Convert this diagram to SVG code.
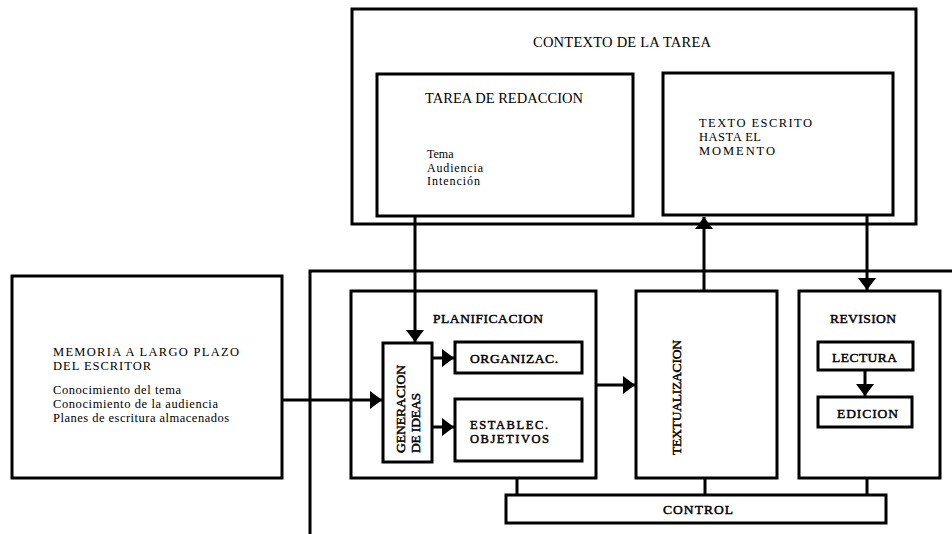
<svg xmlns="http://www.w3.org/2000/svg" width="952" height="534" viewBox="0 0 952 534">
<style>
.box{fill:none;stroke:#000;stroke-width:3}
.ln{fill:none;stroke:#000;stroke-width:3}
text{font-family:"Liberation Serif","Times New Roman",serif;fill:#000}
.t{font-size:14.5px}
.c{font-size:12.5px}
.s{font-size:12px}
.m{font-size:12.5px}
.b{font-size:13.5px;stroke:#000;stroke-width:0.45}
.bs{font-size:12.5px;stroke:#000;stroke-width:0.45}
</style>
<defs>
<marker id="ah" markerUnits="userSpaceOnUse" markerWidth="14" markerHeight="20" viewBox="0 -10 14 20" refX="12" refY="0" orient="auto">
<path d="M0,-9 L12,0 L0,9 Z" fill="#000"/>
</marker>
</defs>
<rect width="952" height="534" fill="#fff"/>

<g id="contexto">
<rect class="box" x="352" y="9" width="564" height="215"/>
<text class="t" x="533" y="47" textLength="178">CONTEXTO DE LA TAREA</text>
</g>

<g id="tarea">
<rect class="box" x="377" y="74" width="256" height="142"/>
<text class="t" x="425" y="103" textLength="158">TAREA DE REDACCION</text>
<text class="s" x="427" y="158">Tema</text>
<text class="s" x="427" y="171.5" textLength="56">Audiencia</text>
<text class="s" x="427" y="185" textLength="53">Intención</text>
</g>

<g id="texto">
<rect class="box" x="663" y="73" width="230" height="142"/>
<text class="c" x="699" y="127" textLength="113">TEXTO ESCRITO</text>
<text class="c" x="699" y="141" textLength="62">HASTA EL</text>
<text class="c" x="699" y="155" textLength="76">MOMENTO</text>
</g>

<g id="memoria">
<rect class="box" x="12" y="276" width="270" height="202"/>
<text class="c" x="53" y="356" textLength="186">MEMORIA A LARGO PLAZO</text>
<text class="c" x="53" y="370" textLength="98">DEL ESCRITOR</text>
<text class="m" x="53" y="394" textLength="128">Conocimiento del tema</text>
<text class="m" x="53" y="408" textLength="165">Conocimiento de la audiencia</text>
<text class="m" x="53" y="422" textLength="176">Planes de escritura almacenados</text>
</g>

<g id="marco">
<path class="ln" d="M310,534 V271 H952"/>
</g>

<g id="planificacion">
<rect class="box" x="351" y="291" width="245" height="187"/>
<text class="b" x="433" y="323" textLength="110">PLANIFICACION</text>
</g>

<g id="generacion">
<rect class="box" x="383" y="343" width="49" height="119"/>
<text class="b" transform="translate(405,453) rotate(-90)" x="0" y="0" textLength="88">GENERACION</text>
<text class="b" transform="translate(420,453) rotate(-90)" x="0" y="0" textLength="60">DE IDEAS</text>
</g>

<g id="organizac">
<rect class="box" x="455" y="342" width="127" height="31"/>
<text class="b" x="470" y="363" textLength="88">ORGANIZAC.</text>
</g>

<g id="establec">
<rect class="box" x="455" y="399" width="127" height="62"/>
<text class="bs" x="470" y="429" textLength="78">ESTABLEC.</text>
<text class="bs" x="470" y="443" textLength="79">OBJETIVOS</text>
</g>

<g id="textualizacion">
<rect class="box" x="636" y="291" width="141" height="187"/>
<text class="b" transform="translate(681,397.5) rotate(-90)" x="0" y="0" text-anchor="middle" textLength="115">TEXTUALIZACION</text>
</g>

<g id="revision">
<rect class="box" x="799" y="291" width="141" height="187"/>
<text class="b" x="830" y="323" textLength="66">REVISION</text>
</g>

<g id="lectura">
<rect class="box" x="818" y="342" width="95" height="28"/>
<text class="b" x="832" y="362" textLength="65">LECTURA</text>
</g>

<g id="edicion">
<rect class="box" x="818" y="397" width="94" height="30"/>
<text class="b" x="837" y="418" textLength="61">EDICION</text>
</g>

<g id="control">
<rect class="box" x="506" y="495" width="380" height="28"/>
<text class="b" x="663" y="514" textLength="70">CONTROL</text>
</g>

<g id="connectors">
<path class="ln" d="M415,216 V342" marker-end="url(#ah)"/>
<path class="ln" d="M704,291 V217" marker-end="url(#ah)"/>
<path class="ln" d="M867,215 V290" marker-end="url(#ah)"/>
<path class="ln" d="M282,400 H382" marker-end="url(#ah)"/>
<path class="ln" d="M432,358 H454" marker-end="url(#ah)"/>
<path class="ln" d="M432,427 H454" marker-end="url(#ah)"/>
<path class="ln" d="M596,385 H635" marker-end="url(#ah)"/>
<path class="ln" d="M865,370 V396" marker-end="url(#ah)"/>
<path class="ln" d="M517,478 V495"/>
<path class="ln" d="M705,478 V495"/>
<path class="ln" d="M867,478 V495"/>
</g>
</svg>
